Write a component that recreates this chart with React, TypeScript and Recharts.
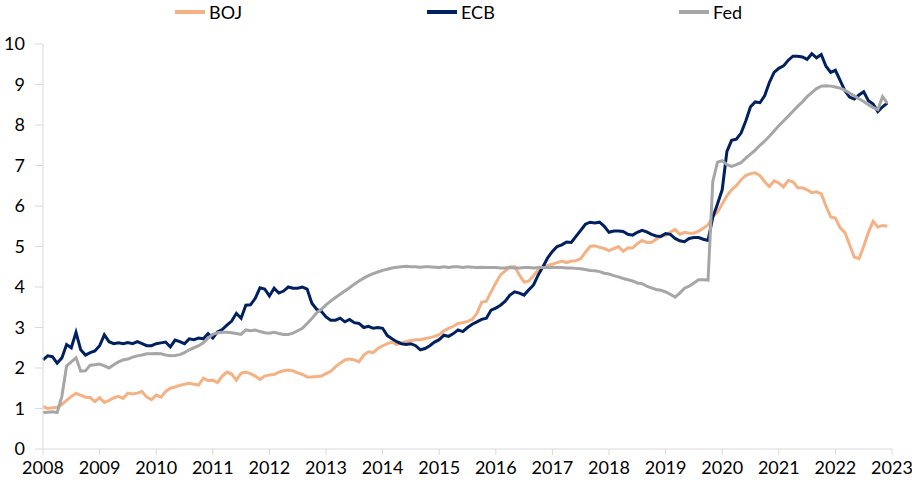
import { LineChart, Line, XAxis, YAxis } from 'recharts';

// Monthly readings, Jan 2008 .. Dec 2022 (12 values per row = one year)
const BOJ = [
  1.05, 1.0, 1.02, 1.03, 1.1, 1.2, 1.3, 1.37, 1.33, 1.28, 1.27, 1.17,
  1.27, 1.15, 1.2, 1.26, 1.3, 1.25, 1.38, 1.36, 1.38, 1.42, 1.28, 1.22,
  1.33, 1.28, 1.42, 1.5, 1.53, 1.57, 1.6, 1.62, 1.6, 1.58, 1.75, 1.69,
  1.7, 1.64, 1.8, 1.9, 1.85, 1.7, 1.87, 1.9, 1.86, 1.8, 1.72, 1.8,
  1.83, 1.84, 1.9, 1.93, 1.95, 1.93, 1.88, 1.84, 1.78, 1.78, 1.79, 1.8,
  1.86, 1.92, 2.03, 2.12, 2.2, 2.22, 2.2, 2.15, 2.32, 2.4, 2.38, 2.48,
  2.55, 2.6, 2.64, 2.58, 2.62, 2.65, 2.68, 2.7, 2.7, 2.73, 2.75, 2.78,
  2.82, 2.92, 2.98, 3.03, 3.1, 3.12, 3.15, 3.2, 3.35, 3.62, 3.65, 3.88,
  4.1, 4.3, 4.4, 4.5, 4.5, 4.3, 4.12, 4.15, 4.28, 4.43, 4.5, 4.53,
  4.56, 4.6, 4.64, 4.6, 4.64, 4.65, 4.7, 4.86, 5.0, 5.02, 4.98, 4.95,
  4.9, 4.95, 5.0, 4.88, 4.96, 4.96, 5.07, 5.15, 5.1, 5.1, 5.18, 5.25,
  5.27, 5.35, 5.42, 5.3, 5.35, 5.33, 5.33, 5.38, 5.45, 5.53, 5.73, 5.85,
  6.05, 6.25, 6.4, 6.5, 6.65, 6.75, 6.8, 6.82, 6.75, 6.6, 6.48, 6.62,
  6.57, 6.47, 6.63, 6.6, 6.45, 6.45, 6.4, 6.33, 6.35, 6.3, 6.0, 5.73,
  5.7, 5.46, 5.35, 5.05, 4.74, 4.7, 5.0, 5.35, 5.62, 5.48, 5.52, 5.5,
];

const ECB = [
  2.2, 2.3, 2.28, 2.12, 2.25, 2.58, 2.5, 2.88, 2.45, 2.32, 2.38, 2.42,
  2.55, 2.82, 2.65, 2.6, 2.62, 2.6, 2.63, 2.6, 2.65, 2.6, 2.55, 2.55,
  2.6, 2.62, 2.64, 2.52, 2.69, 2.65, 2.6, 2.72, 2.7, 2.74, 2.72, 2.85,
  2.74, 2.89, 2.95, 3.06, 3.16, 3.35, 3.23, 3.55, 3.56, 3.72, 3.98, 3.95,
  3.78, 3.97, 3.85, 3.9, 4.0, 3.97, 3.97, 4.0, 3.95, 3.6, 3.45, 3.4,
  3.26, 3.18, 3.18, 3.23, 3.14, 3.2, 3.12, 3.1, 3.0, 3.03, 2.98, 3.0,
  2.98, 2.8, 2.72, 2.65, 2.6, 2.58, 2.6, 2.55, 2.45, 2.48, 2.55, 2.64,
  2.7, 2.81, 2.78, 2.85, 2.94, 2.9, 3.0, 3.08, 3.14, 3.2, 3.23, 3.43,
  3.48, 3.55, 3.65, 3.8, 3.88, 3.85, 3.8, 3.93, 4.05, 4.3, 4.5, 4.72,
  4.88, 5.0, 5.04, 5.11, 5.1, 5.25, 5.4, 5.55, 5.6, 5.58, 5.6, 5.5,
  5.35, 5.38, 5.38, 5.37, 5.3, 5.28, 5.35, 5.4, 5.36, 5.3, 5.26, 5.25,
  5.32, 5.3, 5.2, 5.14, 5.12, 5.2, 5.22, 5.22, 5.18, 5.15, 5.72, 6.05,
  6.4, 7.35, 7.62, 7.65, 7.8, 8.1, 8.45, 8.57, 8.55, 8.72, 9.05, 9.3,
  9.4, 9.46, 9.6, 9.7, 9.7, 9.68, 9.62, 9.76, 9.66, 9.74, 9.45, 9.3,
  9.35, 9.1, 8.85, 8.69, 8.64, 8.74, 8.82, 8.6, 8.52, 8.33, 8.45, 8.54,
];

const FED = [
  0.9, 0.91, 0.92, 0.9, 1.3, 2.05, 2.15, 2.25, 1.92, 1.93, 2.07, 2.08,
  2.1, 2.05, 2.0, 2.08, 2.15, 2.2, 2.22, 2.27, 2.3, 2.32, 2.35, 2.35,
  2.36, 2.35, 2.32, 2.3, 2.31, 2.33, 2.38, 2.45, 2.5, 2.55, 2.62, 2.74,
  2.83, 2.87, 2.88, 2.88, 2.87, 2.85, 2.83, 2.94, 2.92, 2.94, 2.9, 2.87,
  2.86, 2.88, 2.85, 2.83, 2.83, 2.86, 2.92, 2.98, 3.1, 3.22, 3.36, 3.45,
  3.56, 3.65, 3.74, 3.82, 3.9, 3.98, 4.07, 4.15, 4.22, 4.28, 4.33, 4.37,
  4.41, 4.44, 4.47, 4.49, 4.5, 4.51, 4.5, 4.5, 4.49, 4.5, 4.5, 4.49,
  4.48, 4.5, 4.48, 4.5, 4.5, 4.48, 4.5, 4.49, 4.48, 4.49, 4.48, 4.48,
  4.48, 4.47, 4.47, 4.48, 4.47, 4.47, 4.48, 4.48, 4.47, 4.48, 4.48, 4.48,
  4.48, 4.48, 4.48, 4.47, 4.47, 4.46, 4.45, 4.43, 4.41, 4.4, 4.38, 4.34,
  4.32, 4.28, 4.25, 4.21, 4.18, 4.15, 4.1, 4.08, 4.02, 3.98, 3.94, 3.92,
  3.88, 3.82, 3.75, 3.85, 3.97, 4.02, 4.1, 4.18, 4.18, 4.17, 6.6, 7.08,
  7.12, 7.02, 6.98, 7.02, 7.07, 7.18, 7.28, 7.38, 7.5, 7.6, 7.72, 7.85,
  7.98, 8.1, 8.22, 8.34, 8.46, 8.57, 8.7, 8.8, 8.9, 8.96, 8.97, 8.96,
  8.94, 8.91, 8.86, 8.79, 8.72, 8.65, 8.58, 8.5, 8.43, 8.38, 8.7, 8.54,
];

const YEARS = [2008, 2009, 2010, 2011, 2012, 2013, 2014, 2015, 2016, 2017, 2018, 2019, 2020, 2021, 2022, 2023];
const Y_TICKS = [0, 1, 2, 3, 4, 5, 6, 7, 8, 9, 10];

const SERIES = [
  { key: 'BOJ', color: '#F4B183' },
  { key: 'ECB', color: '#002060' },
  { key: 'Fed', color: '#A6A6A6' },
];

const data = BOJ.map((v, i) => ({ m: i, BOJ: v, ECB: ECB[i], Fed: FED[i] }));
const xTicks = YEARS.map((y) => (y - YEARS[0]) * 12);

const FONT = 'Lato, "Liberation Sans", Arial, sans-serif';
const AXIS = '#D9D9D9';
const tickStyle = { fill: '#000', fontSize: 18, fontFamily: FONT };

export default function App() {
  return (
    <div style={{ position: 'absolute', left: 0, top: 0, width: 912, height: 488, background: '#fff' }}>
      {/* legend, laid out like the source */}
      <div style={{ position: 'absolute', top: 0, left: 175, height: 24, display: 'flex', alignItems: 'center', fontFamily: FONT, fontSize: 18 }}>
        {SERIES.map((s) => (
          <div key={s.key} style={{ width: 252, display: 'flex', alignItems: 'center' }}>
            <span style={{ width: 30, height: 4, background: s.color, display: 'inline-block', marginRight: 4 }} />
            <span>{s.key}</span>
          </div>
        ))}
      </div>
      <LineChart width={912} height={488} data={data} margin={{ top: 44, right: 20, bottom: 0, left: 0 }}>
        <XAxis
          dataKey="m"
          type="number"
          domain={[0, 180]}
          ticks={xTicks}
          tickFormatter={(m: number) => String(YEARS[0] + m / 12)}
          stroke={AXIS}
          tickSize={6}
          tickMargin={6}
          height={39}
          tick={tickStyle}
          interval={0}
        />
        <YAxis
          type="number"
          domain={[0, 10]}
          ticks={Y_TICKS}
          stroke={AXIS}
          tickSize={8}
          tickMargin={10}
          width={43}
          tick={tickStyle}
          interval={0}
        />
        {SERIES.map((s) => (
          <Line
            key={s.key}
            dataKey={s.key}
            type="linear"
            stroke={s.color}
            strokeWidth={3}
            dot={false}
            isAnimationActive={false}
          />
        ))}
      </LineChart>
    </div>
  );
}
